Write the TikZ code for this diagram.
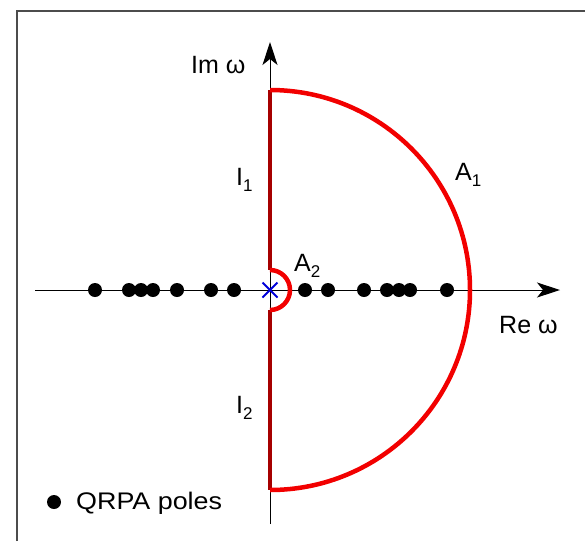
\documentclass[tikz,border=0pt]{standalone}
\usepackage{fontspec}
\setmainfont{Liberation Sans}
\usetikzlibrary{arrows.meta,shapes.misc}
\newcommand{\subidx}[1]{\raisebox{-6pt}{\fontsize{17}{19}\selectfont #1}}
\begin{document}
\begin{tikzpicture}[x=1pt,y=-1pt,
  lbl/.style={font=\fontsize{25}{28}\selectfont, inner sep=0pt, anchor=base west},
  pole/.style={circle, fill=black, minimum size=14pt, inner sep=0pt},
  axisline/.style={line width=1pt, -{Stealth[length=23pt,width=15pt,inset=6pt]}},
  arcline/.style={red!95!black, line width=4.5pt},
  imline/.style={red!65!black, line width=3.5pt},
  framel/.style={gray!60!black, line width=1.5pt}]
\useasboundingbox (0,0) rectangle (585,541);
% frame
\coordinate (fb) at (17,541);
\coordinate (fc) at (17,11);
\coordinate (fr) at (585,11);
\draw[framel] (fb) -- (fc) -- (fr);
% axes
\coordinate (xl) at (35,290);
\coordinate (xr) at (560,290);
\coordinate (yb) at (270,524);
\coordinate (yt) at (270,42);
\draw[axisline] (xl) -- (xr);
\draw[axisline] (yb) -- (yt);
% contour
\coordinate (ctop) at (270,90);
\coordinate (cbot) at (270,490);
\coordinate (stop) at (270,270);
\coordinate (sbot) at (270,310);
\draw[imline] (ctop) -- (stop);
\draw[imline] (sbot) -- (cbot);
\draw[arcline] (stop) arc[start angle=-90, end angle=90, radius=20];
\draw[arcline] (cbot) arc[start angle=90, end angle=-90, radius=200];
% poles
\foreach \x [count=\i] in {95,129,141,153,177,211,234,305,328,364,387,399,410,447}
  \node[pole] (p\i) at (\x,290) {};
% origin cross
\node[cross out, draw=blue!85!black, line width=2pt, minimum size=13pt, inner sep=0pt] (origin) at (270,290) {};
% labels
\node[lbl] (im) at (191,73) {Im ω};
\node[lbl] (re) at (499,333) {Re ω};
\node[lbl] (i1) at (236,185) {I\subidx{1}};
\node[lbl] (i2) at (236,413) {I\subidx{2}};
\node[lbl] (a1) at (455,180) {A\subidx{1}};
\node[lbl] (a2) at (294,271) {A\subidx{2}};
% legend
\node[pole] (legdot) at (54,502) {};
\node[lbl] (legtxt) at (76,509) {\scalebox{1.12}[1]{\fontsize{24}{28}\selectfont QRPA poles}};
\end{tikzpicture}
\end{document}
